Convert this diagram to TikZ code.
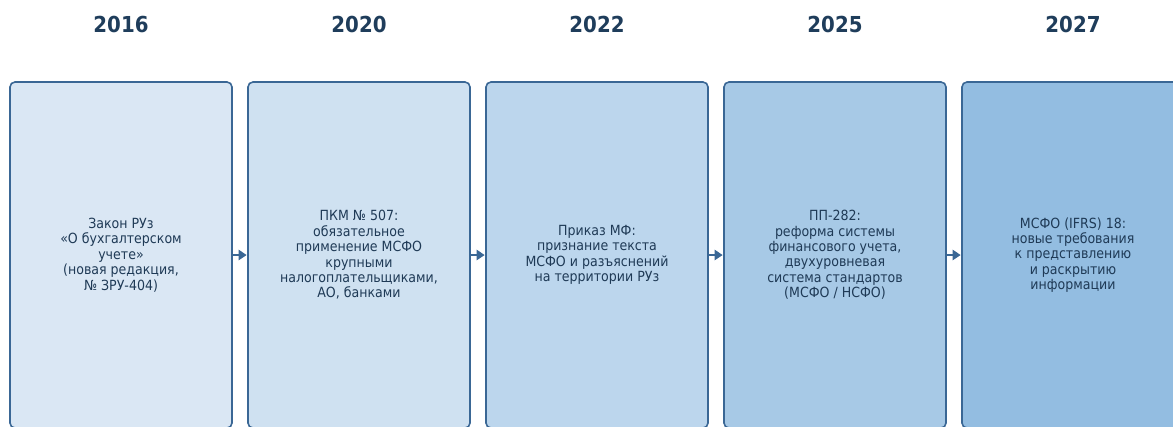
\documentclass[tikz,border=0pt]{standalone}
\usepackage{fontspec}
\setmainfont{DejaVu Sans Condensed}
\usepackage{tikz}
\usetikzlibrary{arrows.meta}
\usetikzlibrary{calc}

\definecolor{edgeblue}{HTML}{3A6795}
\definecolor{textblue}{HTML}{1F3A56}
\definecolor{yearblue}{HTML}{1F3D5B}
\definecolor{fillA}{HTML}{DAE7F4}
\definecolor{fillB}{HTML}{CFE1F1}
\definecolor{fillC}{HTML}{BCD6ED}
\definecolor{fillD}{HTML}{A7C9E6}
\definecolor{fillE}{HTML}{93BDE1}

\begin{document}
\begin{tikzpicture}[->,>={Triangle[length=8pt,width=10pt]},shorten >=0.5pt,auto,node distance=238pt,
  main node/.style={rectangle,rounded corners=5pt,draw=edgeblue,line width=1.6pt,
    minimum width=222pt,minimum height=346pt,align=center,text=textblue,
    font=\fontsize{14}{15.4}\selectfont},
  year node/.style={text=yearblue,font=\fontsize{22}{24}\selectfont\bfseries}]

  \path[use as bounding box,clip] (0pt,0pt) rectangle (1173pt,-426pt);

  \node[main node,fill=fillA] (1) at (121pt,-255pt) {Закон РУз\\«О бухгалтерском\\учете»\\(новая редакция,\\№ ЗРУ-404)};
  \node[main node,fill=fillB] (2) [right of=1] {ПКМ № 507:\\обязательное\\применение МСФО\\крупными\\налогоплательщиками,\\АО, банками};
  \node[main node,fill=fillC] (3) [right of=2] {Приказ МФ:\\признание текста\\МСФО и разъяснений\\на территории РУз};
  \node[main node,fill=fillD] (4) [right of=3] {ПП-282:\\реформа системы\\финансового учета,\\двухуровневая\\система стандартов\\(МСФО / НСФО)};
  \node[main node,fill=fillE] (5) [right of=4] {МСФО (IFRS) 18:\\новые требования\\к представлению\\и раскрытию\\информации};

  \foreach \n/\y in {1/2016,2/2020,3/2022,4/2025,5/2027}
    \node[year node] (y\n) at ($(\n)+(0,231pt)$) {\y};

  \foreach \a/\b in {1/2,2/3,3/4,4/5}
    \draw[edgeblue,line width=2.6pt] (\a) -- (\b);
\end{tikzpicture}
\end{document}
